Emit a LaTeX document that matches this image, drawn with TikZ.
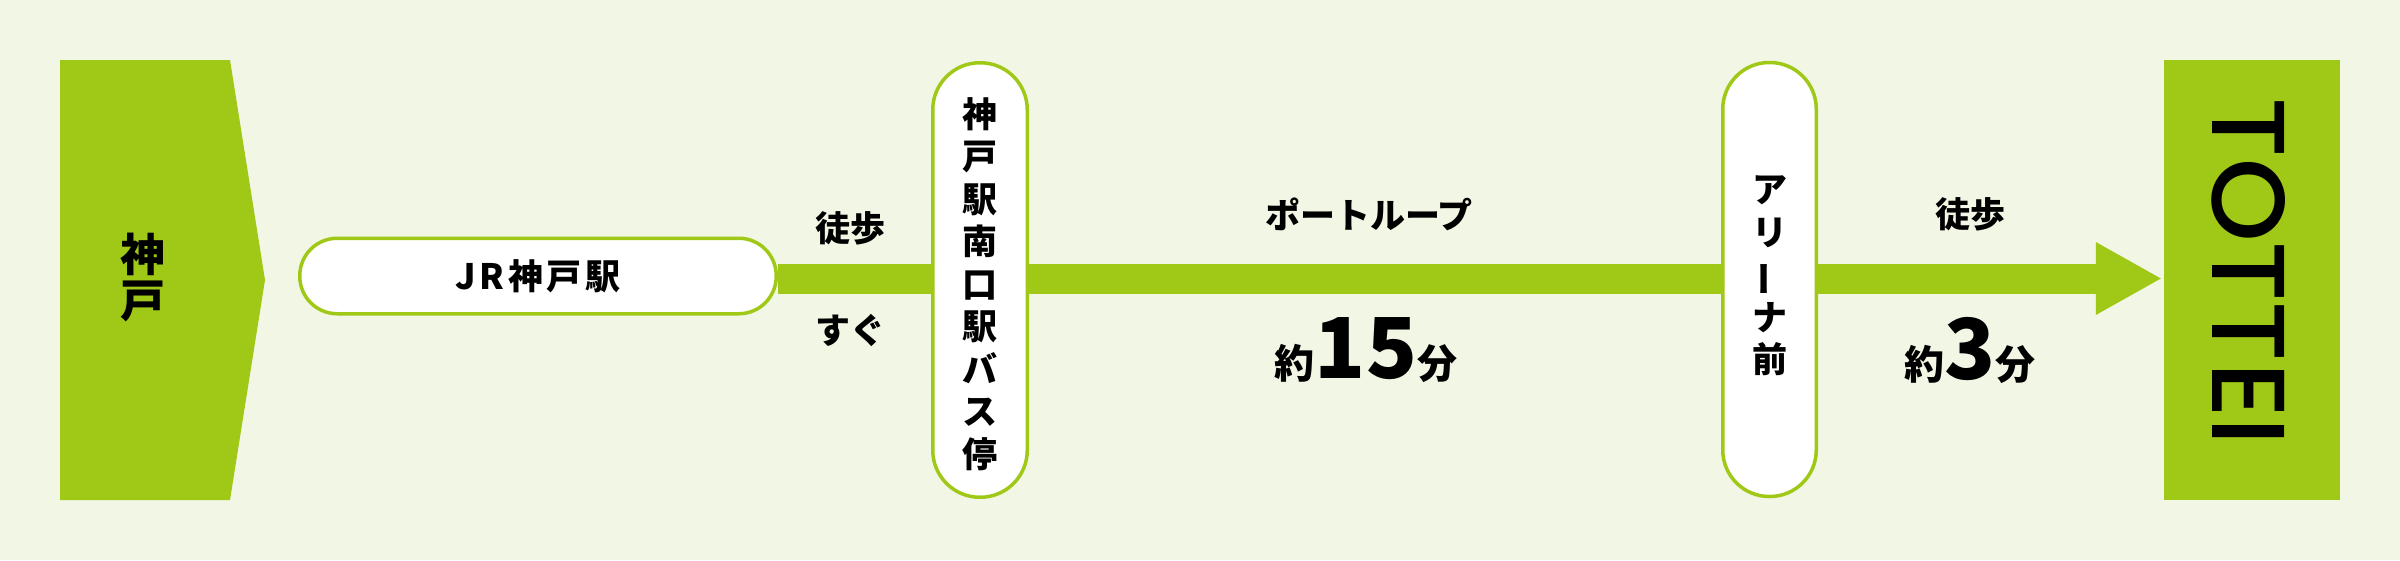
\documentclass[tikz,border=0pt]{standalone}
\usepackage{fontspec}
\setmainfont{Noto Sans CJK JP}
\newfontfamily\pop{Poppins Medium}
\usetikzlibrary{arrows.meta}
\definecolor{bg}{HTML}{F2F6E4}
\definecolor{lime}{HTML}{9FC817}
\begin{document}
\begin{tikzpicture}[x=1pt,y=-1pt,
  pillbox/.style={draw=lime, line width=3.5pt, fill=white, rectangle, inner sep=0pt},
  lbl/.style={font=\bfseries\fontsize{35}{35}\selectfont, inner sep=0pt},
  vlbl/.style={font=\bfseries\fontsize{35}{42.5}\selectfont, inner sep=0pt, align=center},
  mainline/.style={draw=lime, line width=30pt},
]
\fill[bg] (0,0) rectangle (2400,560);
\useasboundingbox (0,0) rectangle (2400,560);
\coordinate (ly) at (0,278.5);

% origin shape
\fill[lime] (60,60) -- (230,60) -- (265,280) -- (230,500) -- (60,500) -- cycle;
\node[font=\bfseries\fontsize{45}{46}\selectfont, inner sep=0pt, align=center] (kobe) at (143,278) {神\\戸};

% stations
\node[pillbox, minimum width=476.5pt, minimum height=75.5pt, rounded corners=37.5pt] (jr) at (538,276) {};
\node[lbl, font=\bfseries\fontsize{35}{35}\selectfont\addfontfeature{LetterSpace=10}] (jrt) at (538,276) {JR神戸駅};

\node[pillbox, minimum width=94.5pt, minimum height=434.5pt, rounded corners=47pt] (bus) at (980,280) {};
\node[vlbl] (bust) at (980,284) {神\\戸\\駅\\南\\口\\駅\\バ\\ス\\停};

\node[pillbox, minimum width=93.5pt, minimum height=434pt, rounded corners=46.5pt] (arena) at (1769.5,279.5) {};
\node[vlbl] (arenat) at (1769.5,276) {ア\\リ\\\rotatebox[origin=c]{90}{ー}\\ナ\\前};

\node[fill=lime, minimum width=176pt, minimum height=440pt, inner sep=0pt] (tottei) at (2252,280) {};
\node[rotate=-90, inner sep=0pt] (totteit) at (2248.5,272) {\resizebox{348pt}{73pt}{\pop TOTTEI}};

% connectors
\draw[mainline] (jr.east |- ly) -- (bus.west |- ly);
\draw[mainline] (bus.east |- ly) -- (arena.west |- ly);
\draw[mainline, -{Triangle[length=65pt,width=73pt,line width=0pt]}] (arena.east |- ly) -- ([xshift=-3pt]tottei.west |- ly);

% labels
\node[lbl] (walk1) at (850,228) {徒歩};
\node[lbl] (soon) at (850,330) {すぐ};
\node[lbl] (port) at (1369,214) {ポートループ};
\node[inner sep=0pt, anchor=base] (t15) at (1366,378) {\bfseries\fontsize{40}{40}\selectfont 約\fontsize{84}{84}\selectfont 15\fontsize{40}{40}\selectfont 分};
\node[lbl] (walk2) at (1970,214) {徒歩};
\node[inner sep=0pt, anchor=base] (t3) at (1970,379) {\bfseries\fontsize{40}{40}\selectfont 約\fontsize{84}{84}\selectfont 3\fontsize{40}{40}\selectfont 分};
\end{tikzpicture}
\end{document}
